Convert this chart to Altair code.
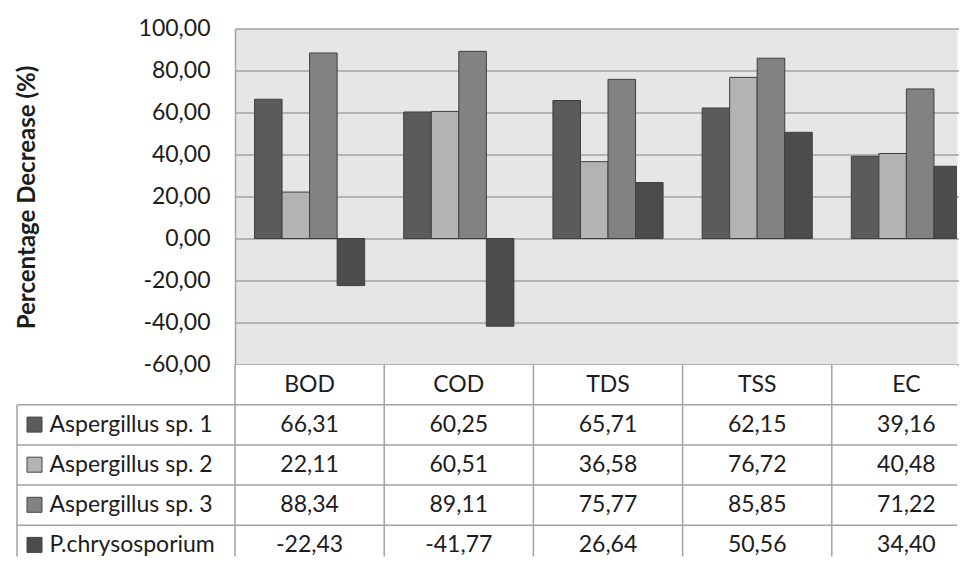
import altair as alt
import pandas as pd

# ---- data -------------------------------------------------------------
categories = ["BOD", "COD", "TDS", "TSS", "EC"]
series_names = ["Aspergillus sp. 1", "Aspergillus sp. 2", "Aspergillus sp. 3", "P.chrysosporium"]
asp1 = [66.31, 60.25, 65.71, 62.15, 39.16]
asp2 = [22.11, 60.51, 36.58, 76.72, 40.48]
asp3 = [88.34, 89.11, 75.77, 85.85, 71.22]
pchr = [-22.43, -41.77, 26.64, 50.56, 34.40]
y_ticks = [-60, -40, -20, 0, 20, 40, 60, 80, 100]
colors = ["#5b5b5b", "#b3b3b3", "#828282", "#4c4c4c"]

HEADER = "H"
table_rows = [HEADER] + series_names

records = []
for s, vals in zip(series_names, [asp1, asp2, asp3, pchr]):
    for c, v in zip(categories, vals):
        records.append({"cat": c, "series": s, "row": s, "value": v})
bars_df = pd.DataFrame(records)
table_df = pd.DataFrame([{"cat": c, "series": "", "row": HEADER, "value": 0.0} for c in categories] + records)
cats_df = pd.DataFrame({"cat": categories})
rows_df = pd.DataFrame({"row": series_names})
first_row_df = pd.DataFrame({"row": series_names[:1]})
keys_df = pd.DataFrame({"series": series_names})

# ---- styles -----------------------------------------------------------
FONT = "Lato"
TXT = "#1c1c1c"
LINE = "#a2a2a2"
fmt = "(datum.value < 0 ? '-' : '') + replace(format(abs(datum.value), '.2f'), '.', ',')"
PLOT_W = 722
PLOT_H = 336
BAND = 149.2
TABLE_H = 192
ROWS_SPAN = 201
LABEL_COL = 218

x_band = alt.Scale(domain=categories, range=[0, BAND * 5], paddingInner=0, paddingOuter=0)
y_rows = alt.Scale(domain=table_rows, range=[0, ROWS_SPAN], paddingInner=0, paddingOuter=0)
span = alt.Scale(domain=[0, 1], range=[-LABEL_COL, PLOT_W])
color_scale = alt.Scale(domain=series_names, range=colors)

# ---- bar panel ----------------------------------------------------------
top = alt.Chart(bars_df).mark_bar(stroke="#3f3f3f", strokeWidth=1, clip=True).encode(
    x=alt.X("cat:N", sort=categories, scale=x_band, axis=None),
    xOffset=alt.XOffset("series:N", sort=series_names,
                        scale=alt.Scale(domain=series_names, paddingInner=0, paddingOuter=0.709)),
    y=alt.Y("value:Q", scale=alt.Scale(domain=[-60, 100], nice=False),
            axis=alt.Axis(values=y_ticks, labelExpr=fmt, labelFont=FONT, labelFontSize=23,
                          labelColor=TXT, labelPadding=25, ticks=False,
                          domain=True, domainColor=LINE, domainWidth=1.5,
                          grid=True, gridColor=LINE, gridWidth=1.5,
                          title="Percentage Decrease (%)", titleFont=FONT, titleFontSize=24,
                          titleFontWeight="bold", titleColor=TXT, titleAngle=270,
                          titleX=-200.5, titleY=168.5, titleAlign="center",
                          titleBaseline="alphabetic")),
    color=alt.Color("series:N", scale=color_scale, legend=None),
).properties(width=PLOT_W, height=PLOT_H,
             view=alt.ViewBackground(fill="#e6e6e6", stroke="transparent"))

# ---- data table ---------------------------------------------------------
cells = alt.Chart(table_df).transform_calculate(
    txt="datum.row == 'H' ? datum.cat : " + fmt
).mark_text(font=FONT, fontSize=23, color=TXT).encode(
    x=alt.X("cat:N", sort=categories, scale=x_band, axis=None),
    y=alt.Y("row:N", sort=table_rows, scale=y_rows, axis=None),
    text="txt:N",
)

col_lines = alt.Chart(cats_df).mark_rule(color=LINE, strokeWidth=1.5).encode(
    x=alt.X("cat:N", sort=categories, scale=x_band, axis=None, bandPosition=0),
)

row_lines = alt.Chart(rows_df).mark_rule(color=LINE, strokeWidth=1.5).encode(
    y=alt.Y("row:N", sort=table_rows, scale=y_rows, axis=None, bandPosition=0),
    x=alt.XDatum(0, type="quantitative", scale=span, axis=None),
    x2=alt.X2Datum(1),
)

left_border = alt.Chart(first_row_df).mark_rule(color=LINE, strokeWidth=1.5).encode(
    y=alt.Y("row:N", sort=table_rows, scale=y_rows, axis=None, bandPosition=0),
    y2=alt.value("height"),
    x=alt.XDatum(0, type="quantitative", scale=span, axis=None),
)

keys = alt.Chart(keys_df).mark_square(opacity=0).encode(
    color=alt.Color("series:N", scale=color_scale,
                    legend=alt.Legend(orient="none", legendX=-212, legendY=48.6, direction="vertical",
                                      title=None, symbolType="square", symbolSize=225,
                                      symbolStrokeColor="#444444", symbolStrokeWidth=1,
                                      symbolOpacity=1, labelFont=FONT, labelFontSize=23,
                                      labelColor=TXT, labelOffset=3.5, labelLimit=400,
                                      rowPadding=16.1, padding=0)),
)

table = alt.layer(cells, col_lines, row_lines, left_border, keys).resolve_scale(
    x="independent"
).properties(width=PLOT_W, height=TABLE_H,
             view=alt.ViewBackground(fill="white", stroke="transparent"))

chart = alt.vconcat(top, table, spacing=0, bounds="flush").resolve_scale(
    color="independent", x="independent", y="independent"
).properties(
    padding={"left": 7, "top": 8.5, "right": 0, "bottom": 0}
).configure(font=FONT, background="white")

chart.save("out.html", embed_options={"renderer": "svg", "actions": False})
